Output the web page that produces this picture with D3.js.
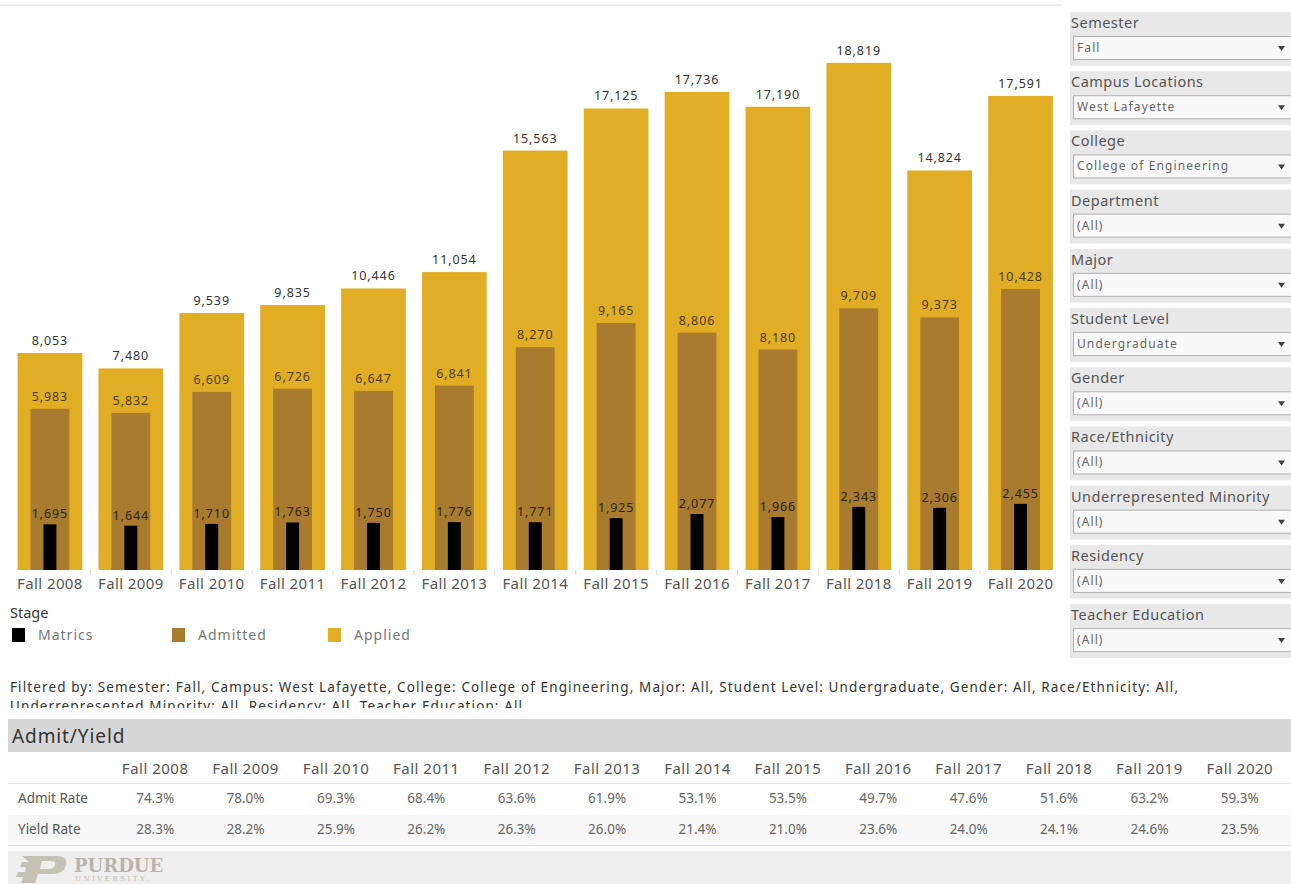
<!DOCTYPE html>
<html>
<head>
<meta charset="utf-8">
<script src="https://cdnjs.cloudflare.com/ajax/libs/d3/7.8.5/d3.min.js"></script>
<style>
  body { margin: 0; background: #fff; }
  svg { display: block; font-family: "Noto Sans", "Open Sans", sans-serif; }
</style>
</head>
<body>
<svg width="1291" height="884"></svg>
<script>
var terms = ["Fall 2008", "Fall 2009", "Fall 2010", "Fall 2011", "Fall 2012", "Fall 2013", "Fall 2014",
             "Fall 2015", "Fall 2016", "Fall 2017", "Fall 2018", "Fall 2019", "Fall 2020"];
var applied = [8053, 7480, 9539, 9835, 10446, 11054, 15563, 17125, 17736, 17190, 18819, 14824, 17591];
var admitted = [5983, 5832, 6609, 6726, 6647, 6841, 8270, 9165, 8806, 8180, 9709, 9373, 10428];
var matrics = [1695, 1644, 1710, 1763, 1750, 1776, 1771, 1925, 2077, 1966, 2343, 2306, 2455];
var admitRate = ["74.3%", "78.0%", "69.3%", "68.4%", "63.6%", "61.9%", "53.1%", "53.5%", "49.7%", "47.6%", "51.6%", "63.2%", "59.3%"];
var yieldRate = ["28.3%", "28.2%", "25.9%", "26.2%", "26.3%", "26.0%", "21.4%", "21.0%", "23.6%", "24.0%", "24.1%", "24.6%", "23.5%"];
var filterNames = ["Semester", "Campus Locations", "College", "Department", "Major", "Student Level",
                   "Gender", "Race/Ethnicity", "Underrepresented Minority", "Residency", "Teacher Education"];
var filterValues = ["Fall", "West Lafayette", "College of Engineering", "(All)", "(All)", "Undergraduate",
                    "(All)", "(All)", "(All)", "(All)", "(All)"];
var stages = ["Matrics", "Admitted", "Applied"];
var stageColors = ["#000000", "#a97b2e", "#e1ad25"];

var svg = d3.select("svg");
var fmt = d3.format(",");

// top rule
svg.append("rect").attr("x", 0).attr("y", 4).attr("width", 1062).attr("height", 2).attr("fill", "#eeeeee");

var x = d3.scaleBand().domain(terms).range([9.5, 1061]).paddingInner(0.2).paddingOuter(0.1);
var y = d3.scaleLinear().domain([0, 20000]).range([570, 31]);
var bw = x.bandwidth();

var g = svg.append("g");

function drawBars(data, w, color, labelGap, labelColor) {
    var grp = g.append("g");
    grp.selectAll("rect").data(data).enter().append("rect")
        .attr("x", function(d, i) { return x(terms[i]) + (bw - w) / 2; })
        .attr("y", function(d) { return y(d); })
        .attr("width", w)
        .attr("height", function(d) { return y(0) - y(d); })
        .attr("fill", color);
    grp.selectAll("text").data(data).enter().append("text")
        .attr("x", function(d, i) { return x(terms[i]) + bw / 2; })
        .attr("y", function(d) { return y(d) - labelGap; })
        .attr("text-anchor", "middle")
        .attr("font-size", 12.5)
        .attr("letter-spacing", 0.9)
        .attr("fill", labelColor)
        .text(function(d) { return fmt(d); });
}

drawBars(applied, bw, stageColors[2], 8, "#333333");
drawBars(admitted, bw * 0.6, stageColors[1], 8, "#4a3d1c");
drawBars(matrics, bw * 0.2, stageColors[0], 6, "#2a2414");

var xAxis = svg.append("g").attr("transform", "translate(0,570)")
    .call(d3.axisBottom(x).tickSize(0).tickPadding(8));
xAxis.select(".domain").remove();
xAxis.selectAll("text").attr("font-size", 15).attr("letter-spacing", 0.4).attr("fill", "#555")
    .attr("font-family", "Noto Sans, sans-serif");
// faint separators at band boundaries
svg.append("g").selectAll("line").data(terms.slice(1)).enter().append("line")
    .attr("x1", function(d) { return x(d) - x.step() * 0.1; })
    .attr("x2", function(d) { return x(d) - x.step() * 0.1; })
    .attr("y1", 570).attr("y2", 575)
    .attr("stroke", "#dddddd");

// legend
svg.append("text").attr("x", 10).attr("y", 618).attr("font-size", 14.5).attr("fill", "#333").text("Stage");
var legX = [12, 172, 328];
var leg = svg.append("g").selectAll("g").data(stages).enter().append("g")
    .attr("transform", function(d, i) { return "translate(" + legX[i] + ",628)"; });
leg.append("rect").attr("width", 13).attr("height", 14).attr("fill", function(d, i) { return stageColors[i]; });
leg.append("text").attr("x", 26).attr("y", 12).attr("font-size", 14).attr("letter-spacing", 1)
    .attr("fill", "#777").text(function(d) { return d; });

// filter caption
svg.append("text").attr("x", 10).attr("y", 692).attr("font-size", 13.5).attr("fill", "#333")
    .attr("textLength", 1168).attr("lengthAdjust", "spacing")
    .text("Filtered by: Semester: Fall, Campus: West Lafayette, College: College of Engineering, Major: All, Student Level: Undergraduate, Gender: All, Race/Ethnicity: All,");
svg.append("defs").append("clipPath").attr("id", "cap").append("rect")
    .attr("x", 0).attr("y", 696).attr("width", 1100).attr("height", 12);
svg.append("text").attr("x", 10).attr("y", 711).attr("font-size", 13.5).attr("fill", "#333")
    .attr("clip-path", "url(#cap)").attr("textLength", 512).attr("lengthAdjust", "spacing")
    .text("Underrepresented Minority: All, Residency: All, Teacher Education: All");

// right filter panel
var fy = d3.scaleBand().domain(filterNames).range([12, 658]).paddingInner(0.09);
var panel = svg.append("g").selectAll("g").data(filterNames).enter().append("g")
    .attr("transform", function(d) { return "translate(1070," + fy(d) + ")"; });
panel.append("rect").attr("width", 221).attr("height", fy.bandwidth()).attr("fill", "#e8e8e8");
panel.append("text").attr("x", 1).attr("y", 16).attr("font-size", 14.5).attr("letter-spacing", 0.5)
    .attr("fill", "#555").text(function(d) { return d; });
panel.append("rect").attr("x", 3.5).attr("y", 24.5).attr("width", 220).attr("height", 23)
    .attr("fill", "#f9f9f9").attr("stroke", "#b0b0b0");
panel.append("text").attr("x", 7).attr("y", 40).attr("font-size", 12).attr("letter-spacing", 1.1).attr("fill", "#666")
    .text(function(d, i) { return filterValues[i]; });
panel.append("path").attr("d", "M208,34h7l-3.5,5z").attr("fill", "#444");

// admit/yield table
svg.append("rect").attr("x", 8).attr("y", 719).attr("width", 1283).attr("height", 33).attr("fill", "#d6d6d6");
svg.append("text").attr("x", 12).attr("y", 743).attr("font-size", 19).attr("letter-spacing", 0.9)
    .attr("fill", "#333").text("Admit/Yield");
var tx = d3.scaleBand().domain(terms).range([110, 1285]);
svg.append("rect").attr("x", 8).attr("y", 815).attr("width", 1283).attr("height", 30).attr("fill", "#f7f7f7");
svg.append("rect").attr("x", 8).attr("y", 783).attr("width", 1283).attr("height", 1).attr("fill", "#e4e4e4");
svg.append("rect").attr("x", 8).attr("y", 845).attr("width", 1283).attr("height", 1).attr("fill", "#dddddd");
svg.append("g").selectAll("text").data(terms).enter().append("text")
    .attr("x", function(d) { return tx(d) + tx.bandwidth() / 2; })
    .attr("y", 774).attr("text-anchor", "middle").attr("font-size", 15).attr("letter-spacing", 0.5).attr("fill", "#555")
    .text(function(d) { return d; });
var rows = [["Admit Rate", admitRate, 803], ["Yield Rate", yieldRate, 834]];
rows.forEach(function(r) {
    svg.append("text").attr("x", 18).attr("y", r[2]).attr("font-size", 13.5).attr("fill", "#555").text(r[0]);
    svg.append("g").selectAll("text").data(r[1]).enter().append("text")
        .attr("x", function(d, i) { return tx(terms[i]) + tx.bandwidth() / 2; })
        .attr("y", r[2]).attr("text-anchor", "middle").attr("font-size", 13.5).attr("fill", "#666")
        .text(function(d) { return d; });
});

// footer with logo
svg.append("rect").attr("x", 8).attr("y", 851).attr("width", 1283).attr("height", 33).attr("fill", "#eeeeee");
svg.append("path")
    .attr("d", "M22,856h34q12,0 10,9q-2,9-14,9h-14l-3,9h-14l2,-6h-7l2,-5h7l1,-5h-6l2,-5h7zM42,861l-2,8h9q5,0 6,-4q1,-4-4,-4z")
    .attr("fill", "#c5c1b5");
svg.append("text").attr("x", 74).attr("y", 872).attr("font-family", "DejaVu Serif, serif").attr("font-weight", "bold")
    .attr("font-size", 18).attr("fill", "#b9b5a9").text("PURDUE");
svg.append("text").attr("x", 75).attr("y", 881).attr("font-family", "DejaVu Serif, serif")
    .attr("font-size", 7).attr("letter-spacing", 2.5).attr("fill", "#b9b5a9").text("UNIVERSITY.");
</script>
</body>
</html>
